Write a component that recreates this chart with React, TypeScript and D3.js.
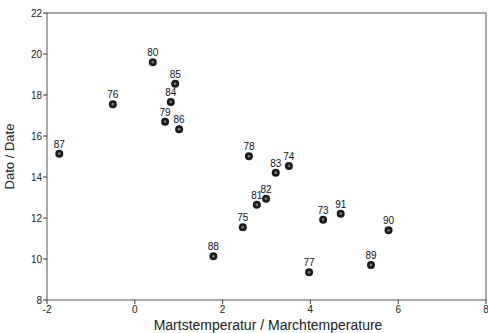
import React from "react";
import * as d3 from "d3";

const years = ["80", "85", "84", "76", "79", "86", "87", "78", "74", "83", "82", "81", "73", "91", "75", "90", "88", "89", "77"];
const marchTemp = [0.41, 0.92, 0.82, -0.5, 0.69, 1.01, -1.72, 2.6, 3.51, 3.21, 2.99, 2.78, 4.29, 4.69, 2.46, 5.78, 1.79, 5.38, 3.97];
const dates = [19.6, 18.55, 17.66, 17.55, 16.7, 16.33, 15.14, 15.01, 14.54, 14.21, 12.94, 12.65, 11.92, 12.21, 11.55, 11.4, 10.13, 9.71, 9.35];
const xTicks = [-2, 0, 2, 4, 6, 8];
const yTicks = [8, 10, 12, 14, 16, 18, 20, 22];

const W = 488;
const H = 333;
const M = { left: 47, right: 2, top: 13, bottom: 33 };
const FONT = "'Liberation Sans', Arial, sans-serif";

const App = () => {
  const x = d3.scaleLinear().domain([-2, 8]).range([M.left, W - M.right]);
  const y = d3.scaleLinear().domain([8, 22]).range([H - M.bottom, M.top]);

  return (
    <svg width={W} height={H} style={{ position: "fixed", left: 0, top: 0, background: "#fff" }}>
      {/* frame */}
      <rect x={M.left} y={M.top} width={W - M.left - M.right} height={H - M.top - M.bottom}
        fill="none" stroke="#555" strokeWidth={1} />
      {/* y axis */}
      {yTicks.map((t) => (
        <g key={"y" + t}>
          <line x1={M.left - 4} x2={M.left} y1={y(t)} y2={y(t)} stroke="#333" />
          <text x={M.left - 5} y={y(t)} dy="0.35em" textAnchor="end" fontSize={10} fontFamily={FONT} fill="#222">{t}</text>
        </g>
      ))}
      {/* x axis */}
      {xTicks.map((t) => (
        <g key={"x" + t}>
          <line x1={x(t)} x2={x(t)} y1={H - M.bottom} y2={H - M.bottom + 4} stroke="#333" />
          <text x={x(t)} y={H - M.bottom + 13} textAnchor="middle" fontSize={10} fontFamily={FONT} fill="#222">{t}</text>
        </g>
      ))}
      <text x={268} y={H - 3} textAnchor="middle" fontSize={14} fontFamily={FONT} fill="#222">
        Martstemperatur / Marchtemperature
      </text>
      <text transform={`translate(14,${(M.top + H - M.bottom) / 2}) rotate(-90)`} textAnchor="middle" fontSize={13} fontFamily={FONT} fill="#222">
        Dato / Date
      </text>
      {/* points */}
      {years.map((yr, i) => (
        <g key={yr}>
          <circle cx={x(marchTemp[i])} cy={y(dates[i])} r={4} fill="#1a1a1a" />
          <circle cx={x(marchTemp[i])} cy={y(dates[i])} r={1.4} fill="#777" />
          <text x={x(marchTemp[i])} y={y(dates[i]) - 6} textAnchor="middle" fontSize={10} fontFamily={FONT} fill="#111">{yr}</text>
        </g>
      ))}
    </svg>
  );
};

export default App;
